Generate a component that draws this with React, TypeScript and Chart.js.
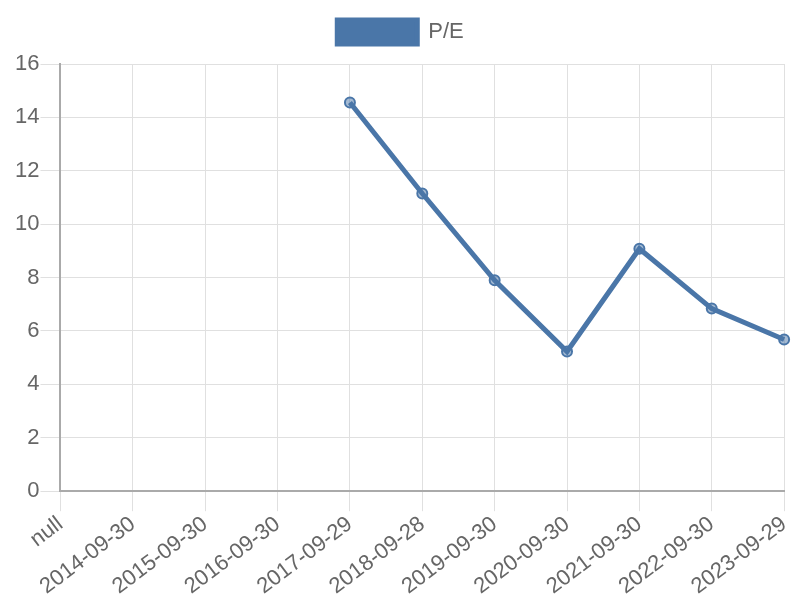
import React, { useEffect, useRef } from "react";
import { Chart, registerables } from "chart.js";

Chart.register(...registerables);

const labels = ["null", "2014-09-30", "2015-09-30", "2016-09-30", "2017-09-29", "2018-09-28", "2019-09-30", "2020-09-30", "2021-09-30", "2022-09-30", "2023-09-29"];
const peValues = [null, null, null, null, 14.56, 11.15, 7.9, 5.23, 9.08, 6.84, 5.68];

const legendGap = {
  id: "legendGap",
  beforeInit(chart: any) {
    const fit = chart.legend.fit;
    chart.legend.fit = function () {
      fit.bind(chart.legend)();
      this.height += 10;
    };
  },
};

export default function App() {
  const ref = useRef<HTMLCanvasElement>(null);
  useEffect(() => {
    Chart.defaults.font.family = "'Liberation Sans', Arial, sans-serif";
    Chart.defaults.color = "#666";
    const chart = new Chart(ref.current!, {
      type: "line",
      data: {
        labels,
        datasets: [
          {
            label: "P/E",
            data: peValues,
            borderColor: "#4a76a8",
            backgroundColor: "#4a76a8",
            pointBackgroundColor: "rgba(74,118,168,0.5)",
            pointBorderColor: "#4a76a8",
            pointBorderWidth: 2,
            pointRadius: 5,
            borderWidth: 5,
            tension: 0,
            fill: false,
          },
        ],
      },
      plugins: [legendGap],
      options: {
        responsive: false,
        animation: false,
        layout: { padding: { left: 14, right: 13, top: 10, bottom: 0 } },
        plugins: {
          legend: {
            labels: { boxWidth: 80, boxHeight: 24, font: { size: 22 }, padding: 10 },
          },
          tooltip: { enabled: false },
        },
        scales: {
          x: {
            ticks: { font: { size: 22 }, maxRotation: 37, minRotation: 37, padding: 0 },
            grid: { color: "#e0e0e0", tickLength: 20 },
            border: { color: "#aaa", width: 2 },
          },
          y: {
            min: 0,
            max: 16,
            ticks: { stepSize: 2, font: { size: 22 }, padding: 1 },
            grid: { color: "#e0e0e0", tickLength: 20 },
            border: { color: "#aaa", width: 2 },
          },
        },
      },
    });
    return () => chart.destroy();
  }, []);
  return (
    <div style={{ position: "absolute", left: 0, top: 0, width: 800, height: 600 }}>
      <canvas ref={ref} width={800} height={600} style={{ display: "block" }} />
    </div>
  );
}
